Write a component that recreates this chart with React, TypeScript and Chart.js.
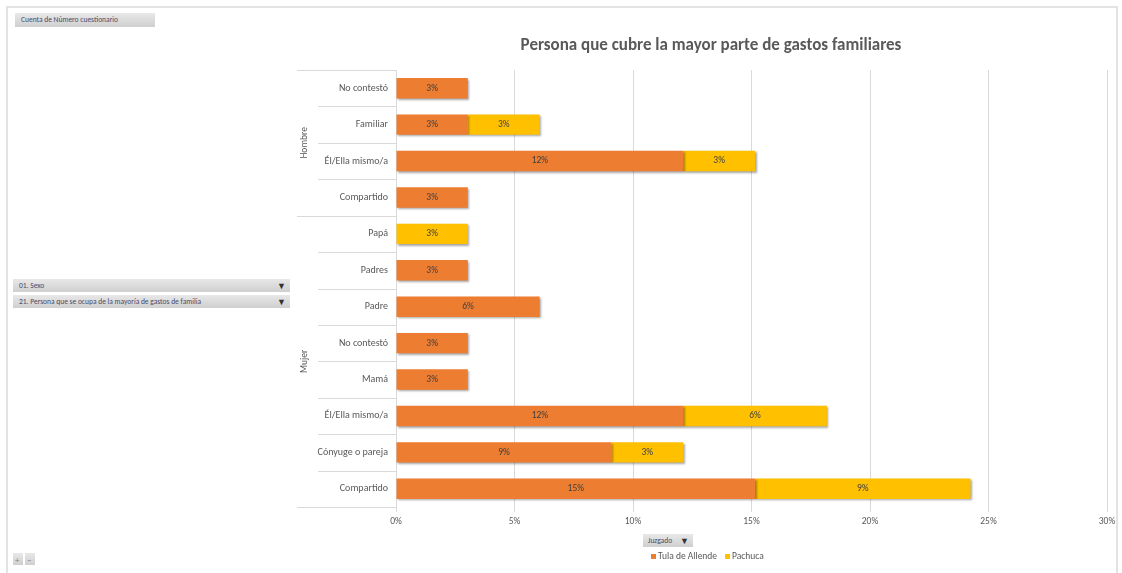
import React, { useEffect, useRef } from "react";
import { Chart, registerables } from "chart.js";

Chart.register(...registerables);

const categories = [
  "No contestó",
  "Familiar",
  "Él/Ella mismo/a",
  "Compartido",
  "Papá",
  "Padres",
  "Padre",
  "No contestó",
  "Mamá",
  "Él/Ella mismo/a",
  "Cónyuge o pareja",
  "Compartido",
];
const groupLabels = ["Hombre", "Mujer"];
const groupStarts = [0, 4];
const groupEnds = [3, 11];
const tulaDeAllende = [3.03, 3.03, 12.12, 3.03, null, 3.03, 6.06, 3.03, 3.03, 12.12, 9.09, 15.15];
const pachuca = [null, 3.03, 3.03, null, 3.03, null, null, null, null, 6.06, 3.03, 9.09];
const seriesNames = ["Tula de Allende", "Pachuca"];
const seriesColors = ["#ED7D31", "#FFC000"];
const xMax = 30;
const xStep = 5;
const chartTitle = "Persona que cubre la mayor parte de gastos familiares";

const FONT = "Carlito, 'Liberation Sans Narrow', 'Liberation Sans', Arial, sans-serif";
const GRID = "#d9d9d9";
const TXT = "#595959";

const shadowPlugin = {
  id: "shadow",
  beforeDatasetsDraw(chart: any) {
    const ctx = chart.ctx;
    ctx.save();
    ctx.shadowColor = "rgba(0,0,0,0.35)";
    ctx.shadowOffsetX = 1.5;
    ctx.shadowOffsetY = 1.5;
    ctx.shadowBlur = 2;
  },
  afterDatasetsDraw(chart: any) {
    chart.ctx.restore();
  },
};

const labelsPlugin = {
  id: "barLabels",
  afterDatasetsDraw(chart: any) {
    const ctx = chart.ctx;
    ctx.save();
    ctx.font = `9.5px ${FONT}`;
    ctx.fillStyle = "#404040";
    ctx.textAlign = "center";
    ctx.textBaseline = "middle";
    chart.data.datasets.forEach((ds: any, di: number) => {
      const meta = chart.getDatasetMeta(di);
      meta.data.forEach((el: any, i: number) => {
        const v = ds.data[i];
        if (v == null) return;
        const cx = (el.x + el.base) / 2;
        ctx.fillText(Math.round(v) + "%", cx, el.y);
      });
    });
    ctx.restore();
  },
};

const decorPlugin = {
  id: "decor",
  afterDraw(chart: any) {
    const ctx = chart.ctx;
    const y = chart.scales.y;
    const area = chart.chartArea;
    const n = categories.length;
    const row = (area.bottom - area.top) / n;
    const left = 297;
    const inner = 318;
    const axisX = area.left;
    ctx.save();
    ctx.strokeStyle = GRID;
    ctx.lineWidth = 1;
    for (let i = 0; i <= n; i++) {
      const yy = Math.round(y.getPixelForValue(0) - row / 2 + i * row) + 0.5;
      const isGroupEdge = i === 0 || i === n || groupStarts.includes(i);
      ctx.beginPath();
      ctx.moveTo(isGroupEdge ? left : inner, yy);
      ctx.lineTo(axisX, yy);
      ctx.stroke();
    }
    ctx.fillStyle = TXT;
    ctx.font = `9.5px ${FONT}`;
    ctx.textAlign = "center";
    ctx.textBaseline = "middle";
    groupLabels.forEach((g, gi) => {
      const top = y.getPixelForValue(groupStarts[gi]) - row / 2;
      const bot = y.getPixelForValue(groupEnds[gi]) + row / 2;
      ctx.save();
      ctx.translate(305, (top + bot) / 2);
      ctx.rotate(-Math.PI / 2);
      ctx.fillText(g, 0, 0);
      ctx.restore();
    });
    // title
    ctx.font = `bold 17px ${FONT}`;
    ctx.fillStyle = TXT;
    ctx.textAlign = "center";
    ctx.fillText(chartTitle, 711, 46);
    // legend
    ctx.font = `9.5px ${FONT}`;
    ctx.textAlign = "left";
    let lx = 651;
    const ly = 557;
    seriesNames.forEach((s, i) => {
      ctx.fillStyle = seriesColors[i];
      ctx.fillRect(lx, ly - 3, 5, 5);
      ctx.fillStyle = TXT;
      ctx.fillText(s, lx + 7, ly);
      lx += 7 + ctx.measureText(s).width + 8;
    });
    ctx.restore();
  },
};

const btn: React.CSSProperties = {
  position: "absolute",
  background: "linear-gradient(#e8e8e8, #cfcfcf)",
  fontFamily: FONT,
  fontSize: 7.5,
  color: "#4a4a6a",
  boxSizing: "border-box",
  paddingLeft: 6,
  display: "flex",
  alignItems: "center",
  justifyContent: "space-between",
  paddingRight: 4,
  lineHeight: 1,
};

export default function App() {
  const ref = useRef<HTMLCanvasElement>(null);
  useEffect(() => {
    if (!ref.current) return;
    const chart = new Chart(ref.current, {
      type: "bar",
      data: {
        labels: categories,
        datasets: [
          {
            label: seriesNames[0],
            data: tulaDeAllende as any,
            backgroundColor: seriesColors[0],
            barPercentage: 0.56,
            categoryPercentage: 1,
          },
          {
            label: seriesNames[1],
            data: pachuca as any,
            backgroundColor: seriesColors[1],
            barPercentage: 0.56,
            categoryPercentage: 1,
          },
        ],
      },
      options: {
        indexAxis: "y",
        responsive: false,
        maintainAspectRatio: false,
        animation: false,
        layout: { padding: { left: 0, right: 15, top: 70, bottom: 46 } },
        plugins: {
          legend: { display: false },
          title: { display: false },
          tooltip: { enabled: false },
        },
        scales: {
          x: {
            stacked: true,
            min: 0,
            max: xMax,
            ticks: {
              stepSize: xStep,
              callback: (v: any) => v + "%",
              font: { family: FONT, size: 9.5 },
              color: TXT,
              padding: 4,
            },
            grid: { color: GRID, tickLength: 5 },
            border: { display: false },
            afterFit: (s: any) => {
              s.height = 20;
            },
          },
          y: {
            stacked: true,
            grid: { display: false, drawTicks: false },
            border: { display: true, color: GRID },
            ticks: {
              font: { family: FONT, size: 10 },
              color: TXT,
              padding: 8,
            },
            afterFit: (s: any) => {
              s.width = 396;
            },
          },
        },
      },
      plugins: [shadowPlugin, labelsPlugin, decorPlugin],
    });
    return () => chart.destroy();
  }, []);

  return (
    <div style={{ position: "fixed", left: 0, top: 0, width: 1122, height: 573, background: "#fff", overflow: "hidden" }}>
      <div style={{ position: "absolute", left: 6, top: 6, width: 1112, height: 580, border: "2px solid #e3e3e3", boxSizing: "border-box" }} />
      <canvas ref={ref} width={1122} height={573} style={{ position: "absolute", left: 0, top: 0 }} />
      <div style={{ ...btn, left: 15, top: 13, width: 140, height: 14 }}>Cuenta de Número cuestionario</div>
      <div style={{ ...btn, left: 13, top: 279, width: 277, height: 13 }}>
        <span>01. Sexo</span>
        <span style={{ fontSize: 9, color: "#333" }}>▼</span>
      </div>
      <div style={{ ...btn, left: 13, top: 295, width: 277, height: 13 }}>
        <span>21. Persona que se ocupa de la mayoría de gastos de familia</span>
        <span style={{ fontSize: 9, color: "#333" }}>▼</span>
      </div>
      <div style={{ ...btn, left: 643, top: 534, width: 50, height: 13, paddingLeft: 5 }}>
        <span>Juzgado</span>
        <span style={{ fontSize: 9, color: "#333" }}>▼</span>
      </div>
      <div style={{ ...btn, left: 13, top: 553, width: 10, height: 12, paddingLeft: 2, paddingRight: 0, fontSize: 9, color: "#888" }}>+</div>
      <div style={{ ...btn, left: 25, top: 553, width: 10, height: 12, paddingLeft: 2, paddingRight: 0, fontSize: 9, color: "#888" }}>−</div>
    </div>
  );
}
